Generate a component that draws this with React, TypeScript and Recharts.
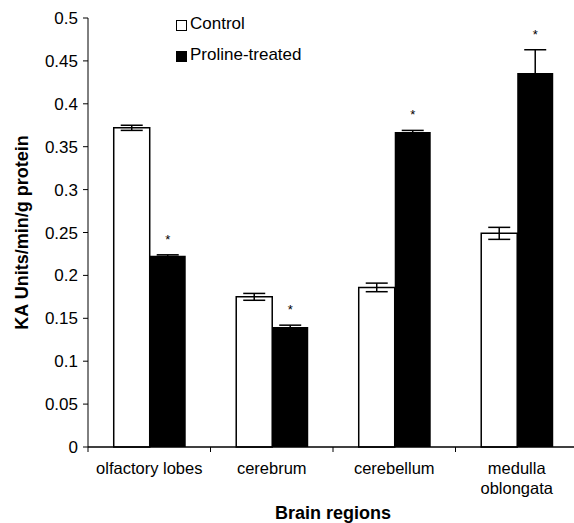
import React from "react";
import {
  Bar,
  BarChart,
  ErrorBar,
  LabelList,
  XAxis,
  YAxis,
} from "recharts";

const regions = ["olfactory lobes", "cerebrum", "cerebellum", "medulla oblongata"];
const control = [0.372, 0.175, 0.186, 0.249];
const controlErr = [0.003, 0.004, 0.005, 0.007];
const proline = [0.223, 0.14, 0.367, 0.436];
const prolineErr = [0.001, 0.002, 0.002, 0.027];
const yTicks = [0, 0.05, 0.1, 0.15, 0.2, 0.25, 0.3, 0.35, 0.4, 0.45, 0.5];

const data = regions.map((name, i) => ({
  name,
  control: control[i],
  controlErr: controlErr[i],
  proline: proline[i],
  prolineErr: prolineErr[i],
}));

const FONT = "'Liberation Sans', Arial, sans-serif";
const W = 574;
const H = 523;
// the x axis runs a few pixels past the right edge of the picture
const CHART_W = 578;
const margin = { top: 18, right: 0, left: 0, bottom: 0 };
const yAxisWidth = 88;
const band = (CHART_W - yAxisWidth - margin.right) / regions.length;

function CategoryTick(props: any) {
  const { x, y, payload, index } = props;
  const words: string[] =
    payload.value === "medulla oblongata" ? ["medulla", "oblongata"] : [payload.value];
  return (
    <g>
      <line x1={x - band / 2} y1={y - 8} x2={x - band / 2} y2={y - 3} stroke="#000" />
      {index === regions.length - 1 && (
        <line x1={x + band / 2} y1={y - 8} x2={x + band / 2} y2={y - 3} stroke="#000" />
      )}
      <text x={x} y={y + 19} textAnchor="middle" fontSize={16.5} fontFamily={FONT} fill="#000">
        {words.map((w, i) => (
          <tspan key={i} x={x} dy={i === 0 ? 0 : 20}>
            {w}
          </tspan>
        ))}
      </text>
    </g>
  );
}

function makeStar(values: number[], errs: number[]) {
  return (props: any) => {
    const { x, y, width, height, index } = props;
    const pxPerUnit = height / values[index];
    const top = y - errs[index] * pxPerUnit;
    return (
      <text
        x={x + width / 2}
        y={top - 11}
        textAnchor="middle"
        fontSize={13}
        fontFamily={FONT}
        fill="#000"
      >
        *
      </text>
    );
  };
}

function LegendBox() {
  const items = [
    { label: "Control", fill: "#fff" },
    { label: "Proline-treated", fill: "#000" },
  ];
  return (
    <div
      style={{
        position: "absolute",
        left: 176,
        top: 8,
        fontFamily: FONT,
        fontSize: 17,
        color: "#000",
      }}
    >
      {items.map((it) => (
        <div key={it.label} style={{ display: "flex", alignItems: "center", height: 31 }}>
          <span
            style={{
              display: "inline-block",
              boxSizing: "border-box",
              width: 11,
              height: 11,
              border: "1.5px solid #000",
              background: it.fill,
              marginRight: 3,
              marginTop: 3,
            }}
          />
          {it.label}
        </div>
      ))}
    </div>
  );
}

export default function App() {
  return (
    <div
      style={{
        position: "absolute",
        left: 0,
        top: 0,
        width: W,
        height: H,
        overflow: "hidden",
        background: "#fff",
      }}
    >
      <BarChart
        width={CHART_W}
        height={H}
        data={data}
        margin={margin}
        barCategoryGap="21%"
        barGap={0}
      >
        <XAxis
          dataKey="name"
          axisLine={{ stroke: "#000", strokeWidth: 1.5 }}
          tickLine={false}
          tick={<CategoryTick />}
          interval={0}
          height={76}
          label={{
            value: "Brain regions",
            position: "insideBottom",
            offset: 4,
            fontSize: 18,
            fontWeight: "bold",
            fontFamily: FONT,
            fill: "#000",
          }}
        />
        <YAxis
          domain={[0, 0.5]}
          ticks={yTicks}
          width={yAxisWidth}
          axisLine={{ stroke: "#000", strokeWidth: 1 }}
          tickLine={{ stroke: "#000" }}
          tickSize={5}
          tickMargin={5}
          tick={{ fontSize: 17, fontFamily: FONT, fill: "#000" }}
          tickFormatter={(v: number) => String(v)}
          label={{
            value: "KA Units/min/g protein",
            angle: -90,
            position: "insideLeft",
            offset: 22,
            style: { textAnchor: "middle" },
            fontSize: 18,
            fontWeight: "bold",
            fontFamily: FONT,
            fill: "#000",
          }}
        />
        <Bar
          dataKey="control"
          name="Control"
          fill="#fff"
          stroke="#000"
          strokeWidth={1.5}
          isAnimationActive={false}
        >
          <ErrorBar dataKey="controlErr" width={11} stroke="#000" strokeWidth={1.5} />
        </Bar>
        <Bar dataKey="proline" name="Proline-treated" fill="#000" isAnimationActive={false}>
          <ErrorBar dataKey="prolineErr" width={11} stroke="#000" strokeWidth={1.5} />
          <LabelList dataKey="proline" content={makeStar(proline, prolineErr)} />
        </Bar>
      </BarChart>
      <LegendBox />
    </div>
  );
}
